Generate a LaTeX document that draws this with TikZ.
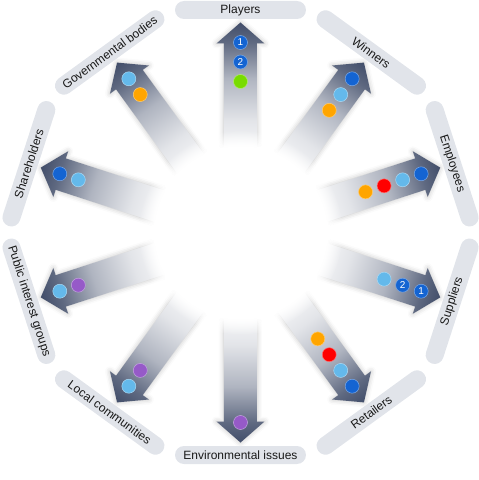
\documentclass[tikz,border=0pt]{standalone}
\usepackage{fontspec}
\setmainfont{Liberation Sans}
\usepackage{tikz}
\usetikzlibrary{shadows.blur,fadings}
\definecolor{barfill}{RGB}{225,228,234}
\definecolor{arrowdark}{RGB}{66,78,106}
\definecolor{dotdark}{RGB}{20,100,210}
\definecolor{dotlight}{RGB}{100,185,235}
\definecolor{dotorange}{RGB}{255,165,0}
\definecolor{dotred}{RGB}{255,0,0}
\definecolor{dotpurple}{RGB}{150,90,200}
\definecolor{dotgreen}{RGB}{120,220,0}
\pgfdeclarehorizontalshading{flowfade}{100bp}{color(0bp)=(white); color(25bp)=(white);
    color(40bp)=(arrowdark!15!white); color(55bp)=(arrowdark!42!white);
    color(68bp)=(arrowdark!85!white); color(75bp)=(arrowdark); color(100bp)=(arrowdark)}

\begin{document}
\begin{tikzpicture}[
    x=1pt, y=1pt,
    labelbar/.style={rectangle, rounded corners=9pt, fill=barfill, minimum width=131pt, minimum height=18pt, inner sep=0pt, font=\fontsize{12}{14}\selectfont, text=black!90},
    stakedot/.style={circle, fill=#1, draw=#1!55!white, line width=0.5pt, minimum size=14pt, inner sep=0pt, text=white, font=\fontsize{10}{10}\selectfont},
    flowarrow/.style={shading=flowfade, blur shadow={shadow xshift=0pt, shadow yshift=0pt, shadow blur radius=5pt, shadow opacity=25}}
]
    \useasboundingbox (-240.5,-247.5) rectangle (238.5,232.5);

    % block arrows pointing outwards
    \foreach \a in {90,54,18,-18,-54,-90,-126,-162,162,126}{
        \begin{scope}[transform canvas={rotate=\a}]
            \shade[flowarrow] (70,-16.5) -- (189,-16.5) -- (189,-24) -- (210,0) -- (189,24) -- (189,16.5) -- (70,16.5) -- cycle;
        \end{scope}
    }

    % white hub hiding the arrow tails
    \fill[white, path fading=circle with fuzzy edge 15 percent] (0,0) circle (102);

    % stakeholder bars
    \node[labelbar] (players) at (90:222.5) {Players};
    \node[labelbar, rotate=-36] (winners) at (54:222.5) {Winners};
    \node[labelbar, rotate=-72] (employees) at (18:222.5) {Employees};
    \node[labelbar, rotate=72] (suppliers) at (-18:222.5) {Suppliers};
    \node[labelbar, rotate=36] (retailers) at (-54:222.5) {Retailers};
    \node[labelbar] (environment) at (-90:222.5) {Environmental issues};
    \node[labelbar, rotate=-36] (communities) at (-126:222.5) {Local communities};
    \node[labelbar, rotate=-72] (publicgroups) at (-162:222.5) {Public interest groups};
    \node[labelbar, rotate=72] (shareholders) at (162:222.5) {Shareholders};
    \node[labelbar, rotate=36] (government) at (126:222.5) {Governmental bodies};

    % dots on the arrows, counted from the tip
    \node[stakedot=dotdark] (players1) at (90:190) {1};
    \node[stakedot=dotdark] (players2) at (90:170.5) {2};
    \node[stakedot=dotgreen] (players3) at (90:151) {};
    \node[stakedot=dotdark] (suppliers1) at (-18:190) {1};
    \node[stakedot=dotdark] (suppliers2) at (-18:170.5) {2};
    \node[stakedot=dotlight] (suppliers3) at (-18:151) {};
    \foreach \a/\cols in {54/{dotdark,dotlight,dotorange}, 18/{dotdark,dotlight,dotred,dotorange},
        -54/{dotdark,dotlight,dotred,dotorange}, -90/{dotpurple}, -126/{dotlight,dotpurple},
        -162/{dotlight,dotpurple}, 162/{dotdark,dotlight}, 126/{dotlight,dotorange}}{
        \foreach \c [count=\i] in \cols {
            \node[stakedot=\c] (dot\a-\i) at (\a:209.5-19.5*\i) {};
        }
    }
\end{tikzpicture}
\end{document}
